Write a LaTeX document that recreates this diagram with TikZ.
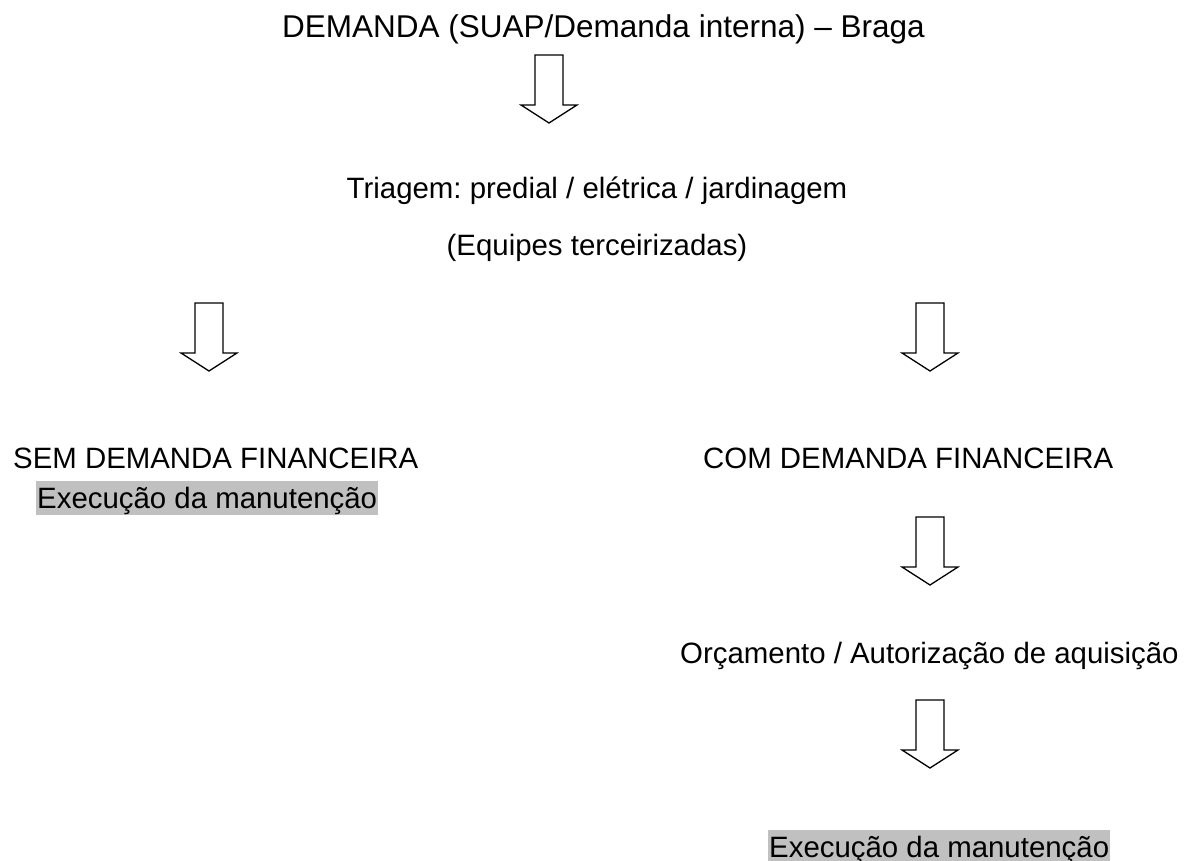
\documentclass[tikz,border=0pt]{standalone}
\usepackage{fontspec}
\setmainfont{Liberation Sans}
\frenchspacing
\definecolor{hl}{RGB}{192,192,192}
\tikzset{
  lbl/.style={anchor=base west, inner sep=0pt, font=\fontsize{29.4}{34}\selectfont},
  titlelbl/.style={lbl, font=\fontsize{31.5}{36}\selectfont},
  clbl/.style={lbl, anchor=base},
  hlbox/.style={lbl, fill=hl, inner xsep=1pt, inner ysep=1.5pt, text height=25.5pt, text depth=5.5pt},
  blockarrow/.pic={\draw[line width=1.3pt, line join=miter]
    (-14,0) -- (14,0) -- (14,50) -- (28,50) -- (0,68) -- (-28,50) -- (-14,50) -- cycle;}
}
\begin{document}
\begin{tikzpicture}[x=1pt, y=-1pt]
\useasboundingbox (0,0) rectangle (1184,861);
\node[titlelbl] (title) at (282,38) {DEMANDA (SUAP/Demanda interna) – Braga};
\pic (a1) at (549,55) {blockarrow};
\node[clbl] (triagem) at (597,199) {Triagem: predial / elétrica / jardinagem};
\node[clbl] (equipes) at (597,256) {(Equipes terceirizadas)};
\pic (a2) at (209,303) {blockarrow};
\pic (a3) at (930,303) {blockarrow};
\node[lbl] (sem) at (13,468) {SEM DEMANDA FINANCEIRA};
\node[hlbox] (exec1) at (36,508) {Execução da manutenção};
\node[lbl] (com) at (703,468) {COM DEMANDA FINANCEIRA};
\pic (a4) at (930,517) {blockarrow};
\node[lbl] (orc) at (680,663) {Orçamento / Autorização de aquisição};
\pic (a5) at (930,700) {blockarrow};
\node[hlbox] (exec2) at (768,857) {Execução da manutenção};
\end{tikzpicture}
\end{document}
